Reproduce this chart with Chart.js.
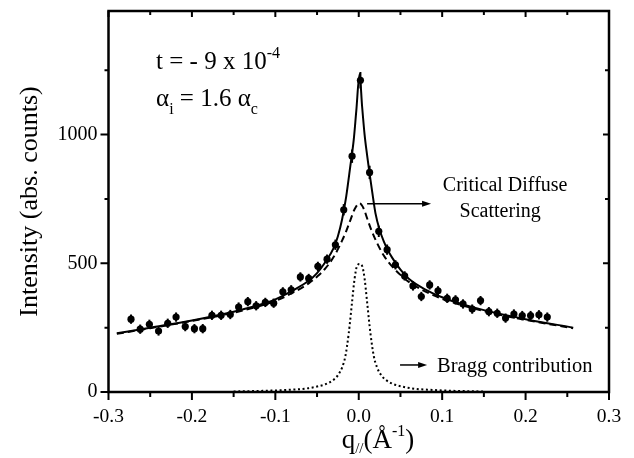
<!DOCTYPE html>
<html>
<head>
<meta charset="utf-8">
<script src="https://cdn.jsdelivr.net/npm/chart.js@4/dist/chart.umd.min.js"></script>
<style>
  html, body { margin: 0; padding: 0; background: #fff; }
  #wrap { width: 634px; height: 458px; position: relative; }
</style>
</head>
<body>
<div id="wrap"><canvas id="c"></canvas></div>
<script>
// ---- data ----
const qData = [-0.273,-0.262,-0.251,-0.240,-0.229,-0.219,-0.208,-0.197,-0.187,-0.176,-0.165,-0.154,-0.144,-0.133,-0.123,-0.112,-0.102,-0.091,-0.081,-0.070,-0.060,-0.049,-0.038,-0.028,-0.018,-0.008,0.002,0.013,0.024,0.034,0.044,0.055,0.065,0.075,0.085,0.095,0.106,0.116,0.125,0.136,0.146,0.156,0.166,0.176,0.186,0.196,0.206,0.216,0.226];
const intensity = [283,244,263,237,267,291,254,246,246,298,298,301,330,351,335,348,345,389,397,447,441,488,516,572,708,916,1211,853,624,553,494,451,412,371,416,393,364,358,342,322,355,312,306,287,303,297,297,300,291];
const errors = [18,18,18,18,18,18,18,18,18,18,18,18,18,18,18,18,18,18,18,18,18,18,18,20,22,26,32,26,22,20,18,18,18,18,18,18,18,18,18,18,18,18,18,18,18,18,18,18,18];

const fitQ = [-0.29,-0.25,-0.20,-0.15,-0.125,-0.10,-0.08,-0.06,-0.05,-0.04,-0.03,-0.025,-0.02,-0.015,-0.01,-0.006,-0.003,0.001,0.004,0.007,0.010,0.0127,0.016,0.02,0.025,0.03,0.035,0.04,0.05,0.06,0.08,0.10,0.125,0.15,0.20,0.257];
const fitI = [228,250,278,312,333,360,393,432,462,505,560,605,670,760,880,980,1090,1235,1110,1000,920,855,780,695,630,585,550,522,475,440,398,368,340,318,283,250];

const diffQ = [-0.29,-0.25,-0.20,-0.15,-0.10,-0.08,-0.06,-0.05,-0.04,-0.03,-0.02,-0.015,-0.01,-0.005,0.001,0.006,0.01,0.015,0.02,0.03,0.04,0.05,0.06,0.08,0.10,0.15,0.20,0.257];
const diffI = [226,248,276,308,354,384,422,448,480,525,588,625,668,710,733,712,675,630,592,530,488,455,428,390,362,314,280,248];

const braggQ = [-0.15,-0.12,-0.10,-0.08,-0.07,-0.06,-0.05,-0.04,-0.03,-0.025,-0.02,-0.016,-0.012,-0.008,-0.005,-0.002,0.001,0.004,0.007,0.010,0.014,0.018,0.022,0.027,0.032,0.042,0.052,0.062,0.072,0.082,0.10,0.12,0.15];
const braggI = [2,4,6,9,11,15,21,30,48,65,95,140,228,350,440,490,497,490,440,350,228,140,95,65,48,30,21,15,11,9,6,4,2];

const xTicksMajor = [-0.3,-0.2,-0.1,0.0,0.1,0.2,0.3];
const xTicksMinor = [-0.25,-0.15,-0.05,0.05,0.15,0.25];
const yTicksMajor = [0,500,1000];
const yTicksMinor = [250,750,1250];

const SERIF = '"Liberation Serif", "Times New Roman", serif';

function pts(xs, ys) { return xs.map((x, i) => ({ x: x, y: ys[i] })); }

function drawRich(ctx, parts, x, y, align) {
  let total = 0;
  parts.forEach(p => { ctx.font = p.size + 'px ' + SERIF; p.w = ctx.measureText(p.t).width; total += p.w; });
  let cx = align === 'center' ? x - total / 2 : x;
  ctx.textAlign = 'left';
  ctx.textBaseline = 'alphabetic';
  parts.forEach(p => {
    ctx.font = p.size + 'px ' + SERIF;
    ctx.fillText(p.t, cx, y + (p.dy || 0));
    cx += p.w;
  });
}

function arrow(ctx, x1, y, x2) {
  ctx.beginPath();
  ctx.moveTo(x1, y); ctx.lineTo(x2 - 6, y);
  ctx.lineWidth = 1.5; ctx.stroke();
  ctx.beginPath();
  ctx.moveTo(x2, y); ctx.lineTo(x2 - 9, y - 3); ctx.lineTo(x2 - 9, y + 3); ctx.closePath();
  ctx.fill();
}

const decor = {
  id: 'decor',
  beforeDatasetsDraw(chart) {
    const ctx = chart.ctx, xs = chart.scales.x, ys = chart.scales.y;
    ctx.save();
    ctx.strokeStyle = '#000'; ctx.lineWidth = 2;
    qData.forEach((q, i) => {
      const px = xs.getPixelForValue(q);
      ctx.beginPath();
      ctx.moveTo(px, ys.getPixelForValue(intensity[i] - errors[i]));
      ctx.lineTo(px, ys.getPixelForValue(intensity[i] + errors[i]));
      ctx.stroke();
    });
    ctx.restore();
  },
  afterDraw(chart) {
    const ctx = chart.ctx, xs = chart.scales.x, ys = chart.scales.y;
    const a = chart.chartArea;
    ctx.save();
    ctx.strokeStyle = '#000'; ctx.fillStyle = '#000';
    ctx.lineWidth = 2.5;
    ctx.strokeRect(a.left, a.top, a.right - a.left, a.bottom - a.top);
    ctx.lineWidth = 2;
    ctx.beginPath();
    xTicksMajor.forEach(v => {
      const p = xs.getPixelForValue(v);
      ctx.moveTo(p, a.bottom); ctx.lineTo(p, a.bottom + 8);
      ctx.moveTo(p, a.top); ctx.lineTo(p, a.top + 6);
    });
    xTicksMinor.forEach(v => {
      const p = xs.getPixelForValue(v);
      ctx.moveTo(p, a.bottom); ctx.lineTo(p, a.bottom + 5);
      ctx.moveTo(p, a.top); ctx.lineTo(p, a.top + 4);
    });
    yTicksMajor.forEach(v => {
      const p = ys.getPixelForValue(v);
      ctx.moveTo(a.left, p); ctx.lineTo(a.left - 8, p);
      ctx.moveTo(a.right, p); ctx.lineTo(a.right - 6, p);
    });
    yTicksMinor.forEach(v => {
      const p = ys.getPixelForValue(v);
      ctx.moveTo(a.left, p); ctx.lineTo(a.left - 4, p);
      ctx.moveTo(a.right, p); ctx.lineTo(a.right - 4, p);
    });
    ctx.stroke();

    drawRich(ctx, [{ t: 't = - 9 x 10', size: 25 }, { t: '-4', size: 16, dy: -11 }],
      xs.getPixelForValue(-0.243), ys.getPixelForValue(1255), 'left');
    drawRich(ctx, [{ t: 'α', size: 25 }, { t: 'i', size: 16, dy: 8 }, { t: ' = 1.6 α', size: 25 }, { t: 'c', size: 16, dy: 8 }],
      xs.getPixelForValue(-0.243), ys.getPixelForValue(1110), 'left');
    drawRich(ctx, [{ t: 'Critical Diffuse', size: 20 }], xs.getPixelForValue(0.1755), ys.getPixelForValue(781), 'center');
    drawRich(ctx, [{ t: 'Scattering', size: 20 }], xs.getPixelForValue(0.1695), ys.getPixelForValue(681), 'center');
    drawRich(ctx, [{ t: 'Bragg contribution', size: 20.5 }], xs.getPixelForValue(0.0939), ys.getPixelForValue(78), 'left');
    arrow(ctx, xs.getPixelForValue(0.010), ys.getPixelForValue(731), xs.getPixelForValue(0.0867));
    arrow(ctx, xs.getPixelForValue(0.0495), ys.getPixelForValue(105), xs.getPixelForValue(0.082));

    // x axis title with subscript / superscript
    drawRich(ctx, [{ t: 'q', size: 27 }, { t: '//', size: 15, dy: 5 }, { t: '(Å', size: 27 }, { t: '-1', size: 16, dy: -12 }, { t: ')', size: 27 }],
      378, chart.height - 10, 'center');
    ctx.restore();
  }
};

new Chart(document.getElementById('c'), {
  type: 'scatter',
  data: {
    datasets: [
      { label: 'data', data: pts(qData, intensity), showLine: false, pointRadius: 3.6, pointHoverRadius: 3.6,
        pointBackgroundColor: '#000', pointBorderColor: '#000', pointBorderWidth: 0 },
      { label: 'fit', data: pts(fitQ, fitI), showLine: true, pointRadius: 0, borderColor: '#000', borderWidth: 2,
        cubicInterpolationMode: 'monotone' },
      { label: 'critical diffuse', data: pts(diffQ, diffI), showLine: true, pointRadius: 0, borderColor: '#000', borderWidth: 2,
        borderDash: [7, 4], cubicInterpolationMode: 'monotone' },
      { label: 'Bragg', data: pts(braggQ, braggI), showLine: true, pointRadius: 0, borderColor: '#000', borderWidth: 2,
        borderDash: [2, 2.6], cubicInterpolationMode: 'monotone' }
    ]
  },
  options: {
    responsive: true,
    maintainAspectRatio: false,
    animation: false,
    events: [],
    layout: { padding: { top: 11, right: 25, left: 0, bottom: 0 } },
    plugins: { legend: { display: false }, tooltip: { enabled: false } },
    scales: {
      x: {
        type: 'linear', min: -0.3, max: 0.3,
        grid: { display: false, drawTicks: false },
        border: { display: false },
        afterBuildTicks: s => { s.ticks = xTicksMajor.map(v => ({ value: v })); },
        ticks: { padding: 13, color: '#000', maxRotation: 0, minRotation: 0, autoSkip: false,
          font: { family: SERIF, size: 19.5 },
          callback: v => (Math.abs(v) < 1e-9 ? '0.0' : Number(v).toFixed(1)) },
        afterFit: s => { s.height = 66; s.paddingLeft = 0; s.paddingRight = 0; }
      },
      y: {
        type: 'linear', min: 0, max: 1480,
        grid: { display: false, drawTicks: false },
        border: { display: false },
        afterBuildTicks: s => { s.ticks = yTicksMajor.map(v => ({ value: v })); },
        ticks: { padding: 11, color: '#000', autoSkip: false,
          font: { family: SERIF, size: 20 }, callback: v => String(v) },
        title: { display: true, text: 'Intensity (abs. counts)', color: '#000',
          font: { family: SERIF, size: 26, lineHeight: 1 }, padding: { top: 17, bottom: 0 } },
        afterFit: s => { s.width = 108.5; s.paddingTop = 0; s.paddingBottom = 0; }
      }
    }
  },
  plugins: [decor]
});
</script>
</body>
</html>
